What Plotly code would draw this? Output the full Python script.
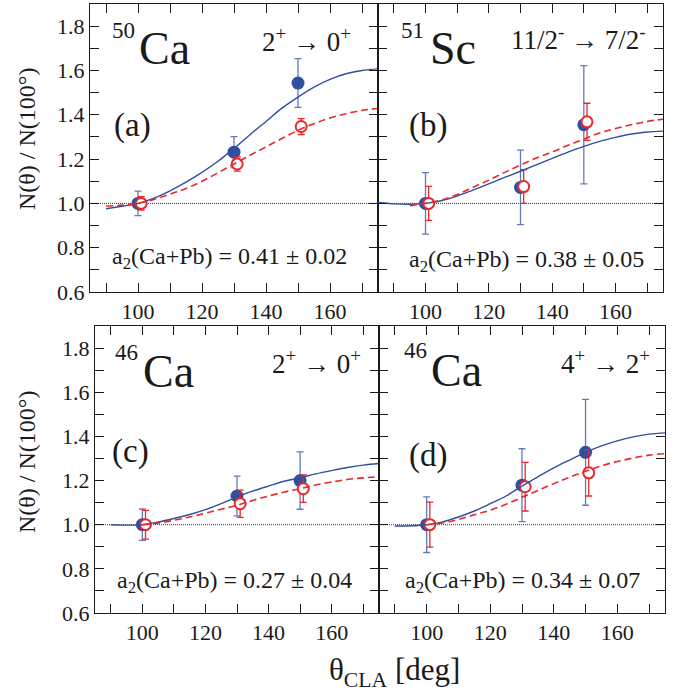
import plotly.graph_objects as go

FONT = "Liberation Serif"
BLUE = "#2F4F9F"
BLUE_ERR = "rgba(47,79,159,0.75)"
RED = "#E8282C"
INK = "#1a1a1a"
W, H = 675, 696

# ---------------- data ----------------
panels = ["a", "b", "c", "d"]

theta_blue = [100, 130, 150]
theta_red = [101, 131, 151]

# experimental points (blue = filled, red = open)
blue_y = {
    "a": [1.000, 1.231, 1.543],
    "b": [1.000, 1.072, 1.355],
    "c": [1.000, 1.130, 1.200],
    "d": [1.000, 1.179, 1.328],
}
blue_err = {
    "a": [0.055, 0.070, 0.110],
    "b": [0.139, 0.168, 0.267],
    "c": [0.071, 0.090, 0.130],
    "d": [0.126, 0.165, 0.240],
}
red_y = {
    "a": [1.000, 1.178, 1.347],
    "b": [1.000, 1.076, 1.368],
    "c": [1.000, 1.095, 1.163],
    "d": [1.000, 1.172, 1.235],
}
red_err = {
    "a": [0.030, 0.032, 0.036],
    "b": [0.077, 0.076, 0.084],
    "c": [0.065, 0.062, 0.062],
    "d": [0.102, 0.110, 0.105],
}

# fitted angular-distribution curves
fit_x_90 = [90, 95, 100, 105, 110, 115, 120, 125, 130, 135, 140, 145, 150, 155, 160, 165, 170, 175]
fit_x_85 = [85] + fit_x_90
fit_x_95 = fit_x_90[1:]
fit_x_100 = fit_x_90[2:]

blue_fit_x = {"a": fit_x_90, "b": fit_x_85, "c": fit_x_90, "d": fit_x_90}
blue_fit_y = {
    "a": [0.976, 0.987, 1.000, 1.024, 1.057, 1.096, 1.140, 1.190, 1.248, 1.310, 1.370, 1.430, 1.480, 1.525, 1.560, 1.585, 1.600, 1.607],
    "b": [1.004, 0.998, 0.996, 1.000, 1.012, 1.033, 1.060, 1.088, 1.117, 1.145, 1.174, 1.203, 1.231, 1.257, 1.280, 1.298, 1.313, 1.322, 1.326],
    "c": [1.000, 0.998, 1.000, 1.012, 1.028, 1.046, 1.068, 1.095, 1.126, 1.152, 1.175, 1.197, 1.213, 1.230, 1.245, 1.259, 1.270, 1.277],
    "d": [0.994, 0.995, 1.000, 1.013, 1.035, 1.062, 1.095, 1.130, 1.175, 1.217, 1.257, 1.293, 1.328, 1.357, 1.380, 1.398, 1.410, 1.416],
}
red_fit_x = {"a": fit_x_90, "b": fit_x_95, "c": fit_x_100, "d": fit_x_100}
red_fit_y = {
    "a": [0.988, 0.992, 1.000, 1.018, 1.042, 1.067, 1.100, 1.138, 1.178, 1.217, 1.255, 1.293, 1.330, 1.360, 1.385, 1.405, 1.420, 1.428],
    "b": [0.990, 1.000, 1.015, 1.040, 1.073, 1.105, 1.140, 1.173, 1.205, 1.232, 1.262, 1.290, 1.318, 1.338, 1.355, 1.370, 1.380],
    "c": [1.000, 1.007, 1.020, 1.035, 1.052, 1.070, 1.088, 1.110, 1.130, 1.148, 1.163, 1.180, 1.193, 1.205, 1.212, 1.217],
    "d": [1.000, 1.008, 1.024, 1.045, 1.066, 1.093, 1.124, 1.155, 1.186, 1.215, 1.242, 1.267, 1.286, 1.302, 1.315, 1.322],
}

nucleus_mass = {"a": "50", "b": "51", "c": "46", "d": "46"}
nucleus_sym = {"a": "Ca", "b": "Sc", "c": "Ca", "d": "Ca"}
transition = {
    "a": "2<sup>+</sup>\u00a0\u2192\u00a00<sup>+</sup>",
    "b": "11/2<sup>-</sup> \u2192 7/2<sup>-</sup>",
    "c": "2<sup>+</sup> \u2192 0<sup>+</sup>",
    "d": "4<sup>+</sup> \u2192 2<sup>+</sup>",
}
a2_value = {"a": "0.41 \u00b1 0.02", "b": "0.38 \u00b1 0.05", "c": "0.27 \u00b1 0.04", "d": "0.34 \u00b1 0.07"}

x_range = [85, 175]
y_range = [0.6, 1.9]
ref_level = 1.0

# ---------------- layout geometry (pixels) ----------------
boxes = {
    "a": (90, 378, 4, 292),
    "b": (378, 663, 4, 292),
    "c": (95, 379, 326, 613),
    "d": (379, 665, 326, 613),
}

def px(x):
    return x / W

def py(y):
    return 1 - y / H

fig = go.Figure()
layout = dict(
    width=W, height=H,
    margin=dict(l=0, r=0, t=0, b=0),
    paper_bgcolor="white", plot_bgcolor="white",
    showlegend=False,
    font=dict(family=FONT, color=INK),
)
annotations = []
shapes = []

for i, p in enumerate(panels):
    n = "" if i == 0 else str(i + 1)
    xa, ya = "x" + n, "y" + n
    l, r, t, b = boxes[p]
    layout["xaxis" + n] = dict(
        domain=[px(l), px(r)], range=x_range, anchor=ya,
        showline=True, linecolor=INK, linewidth=1, mirror="ticks",
        ticks="inside", ticklen=9, tickwidth=1, tickcolor=INK,
        tick0=100, dtick=20,
        minor=dict(ticks="inside", dtick=10, ticklen=9, tickwidth=1, tickcolor=INK, showgrid=False),
        showgrid=False, zeroline=False, automargin=False,
        tickfont=dict(family=FONT, size=22, color=INK),
    )
    layout["yaxis" + n] = dict(
        domain=[py(b), py(t)], range=y_range, anchor=xa,
        showline=True, linecolor=INK, linewidth=1, mirror="ticks",
        ticks="inside", ticklen=9, tickwidth=1, tickcolor=INK,
        tick0=0.6, dtick=0.2, tickformat=".1f",
        minor=dict(ticks="inside", dtick=0.1, ticklen=9, tickwidth=1, tickcolor=INK, showgrid=False),
        showgrid=False, zeroline=False, automargin=False,
        showticklabels=(p in ("a", "c")),
        tickfont=dict(family=FONT, size=22, color=INK),
    )

    shapes.append(dict(type="line", xref=xa + " domain", yref=ya, x0=0, x1=1,
                       y0=ref_level, y1=ref_level,
                       line=dict(color="#333333", width=1, dash="1px,1px"), layer="below"))

    fig.add_trace(go.Scatter(
        x=theta_blue, y=blue_y[p], mode="markers", xaxis=xa, yaxis=ya,
        marker=dict(symbol="circle", size=13, color=BLUE, line=dict(width=0)),
        error_y=dict(type="data", array=blue_err[p], color=BLUE_ERR, thickness=1.3, width=3.5),
        cliponaxis=False,
    ))
    fig.add_trace(go.Scatter(
        x=theta_red, y=red_y[p], mode="markers", xaxis=xa, yaxis=ya,
        marker=dict(symbol="circle", size=11, color="white", line=dict(width=2, color=RED)),
        error_y=dict(type="data", array=red_err[p], color=RED, thickness=1.3, width=3.5),
        cliponaxis=False,
    ))
    fig.add_trace(go.Scatter(
        x=blue_fit_x[p], y=blue_fit_y[p], mode="lines", xaxis=xa, yaxis=ya,
        line=dict(color=BLUE, width=1.4, shape="spline"),
    ))
    fig.add_trace(go.Scatter(
        x=red_fit_x[p], y=red_fit_y[p], mode="lines", xaxis=xa, yaxis=ya,
        line=dict(color=RED, width=1.6, dash="7px,4px", shape="spline"),
    ))

# ---------------- text ----------------
text_pos = {
    # mass-left, mass-y, sym-left, sym-y, trans-right, trans-y, tag-left, tag-y, a2-left, a2-y
    "a": (110, 31, 137, 48, 353, 40, 112, 126, 110, 258),
    "b": (399, 31, 428, 48, 648, 38, 407, 126, 407, 261),
    "c": (113, 352, 141, 372, 363, 362, 110, 451, 115, 582),
    "d": (402, 350, 429, 370, 652, 362, 407, 455, 403, 582),
}

def ann(text, x, y, size, xanchor="left", yanchor="middle", angle=0):
    annotations.append(dict(
        text=text, x=px(x), y=py(y), xref="paper", yref="paper",
        xanchor=xanchor, yanchor=yanchor, showarrow=False, textangle=angle,
        font=dict(family=FONT, size=size, color=INK),
    ))

for p in panels:
    mx, my, sx, sy, tx, ty, gx, gy, ax, ay = text_pos[p]
    ann(nucleus_mass[p], mx, my, 23)
    ann(nucleus_sym[p], sx, sy, 46)
    ann(transition[p], tx, ty, 27, xanchor="right")
    ann("(" + p + ")", gx, gy, 33)
    ann("a<sub>2</sub>(Ca+Pb) = " + a2_value[p], ax, ay, 24)

ann("N(\u03b8) / N(100\u00b0)", 27, 139, 24, xanchor="center", angle=-90)
ann("N(\u03b8) / N(100\u00b0)", 27, 462, 24, xanchor="center", angle=-90)
ann("\u03b8<sub>CLA</sub> [deg]", 394, 672, 31, xanchor="center")

layout["annotations"] = annotations
layout["shapes"] = shapes
fig.update_layout(**layout)
fig.write_html("out.html")
